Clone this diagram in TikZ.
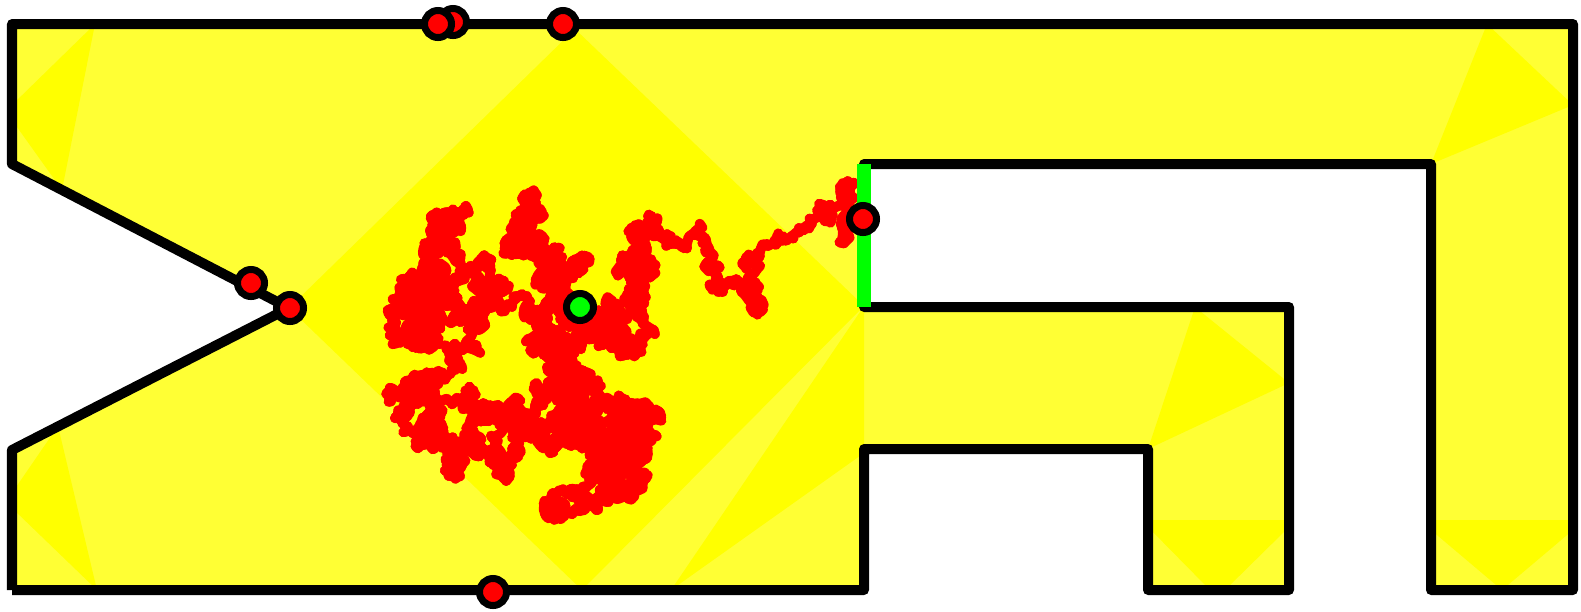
\documentclass[tikz,border=0pt]{standalone}
\definecolor{pureyellow}{RGB}{255,255,0}
\definecolor{paleyellow}{RGB}{255,255,52}
\definecolor{pathred}{RGB}{255,0,0}
\definecolor{exitgreen}{RGB}{0,255,0}

\begin{document}
\begin{tikzpicture}[x=0.01cm, y=-0.01cm,
    wall/.style = {line width=0.1cm, line join=round},
    door/.style = {exitgreen, line width=0.14cm},
    walk/.style = {pathred, line width=0.1cm, line cap=round},
    main/.style = {draw, circle, line width=0.07cm, fill=pathred,
      minimum size=0.27cm, inner sep=0pt}]
  \useasboundingbox (0,0) rectangle (1581,611);

  \fill[paleyellow] (12,590) -- (864,590) -- (864,449) -- (1148,449)
    -- (1148,590) -- (1289,590) -- (1289,307) -- (864,307) -- (864,164)
    -- (1431,164) -- (1431,590) -- (1573,590) -- (1573,24) -- (12,24)
    -- (12,164) -- (289,308) -- (12,450) -- cycle;
  \fill[pureyellow] (575,29) -- (864,306) -- (582,590) -- (289,308) -- cycle;
  \fill[pureyellow] (864,306) -- (671,590) -- (864,453) -- cycle;
  \fill[pureyellow] (95,24) -- (12,105) -- (12,120) -- (62,190) -- cycle;
  \fill[pureyellow] (58,426) -- (12,493) -- (12,508) -- (97,590) -- cycle;
  \fill[pureyellow] (1487,24) -- (1573,105) -- (1431,164) -- cycle;
  \fill[pureyellow] (1195,307) -- (1289,383) -- (1148,449) -- cycle;
  \fill[pureyellow] (1148,520) -- (1289,520) -- (1289,527) -- (1225,590)
    -- (1210,590) -- (1148,527) -- cycle;
  \fill[pureyellow] (1431,520) -- (1573,520) -- (1573,530) -- (1502,590)
    -- (1431,530) -- cycle;

  \pgfmathsetseed{7}
  \xdef\walkx{580}\xdef\walky{307}
  \foreach \tx/\ty/\n in {560/270/300, 525/215/350, 545/285/300,
      480/265/350, 430/280/350, 410/340/350, 445/300/300, 420/400/350,
      440/440/300, 490/410/350, 480/450/300, 540/400/350, 560/340/300,
      560/420/350, 620/440/350, 560/520/350, 600/470/350, 640/440/300,
      600/400/300, 560/360/200, 610/320/300, 630/350/200, 620/270/250,
      650/230/120, 700/230/80, 720/285/60, 762/300/50, 752/258/50,
      795/230/50, 826/205/40, 846/185/40, 843/245/30, 863/219/30}{
    \foreach \k in {1,...,\n}{
      \pgfmathsetmacro\nx{\walkx+(\tx-\walkx)/(\n-\k+1)+4.5*rand}
      \pgfmathsetmacro\ny{\walky+(\ty-\walky)/(\n-\k+1)+4.5*rand}
      \draw[walk] (\walkx,\walky) -- (\nx,\ny);
      \xdef\walkx{\nx}\xdef\walky{\ny}
    }
  }

  \draw[wall] (12,590) -- (864,590) -- (864,449) -- (1148,449)
    -- (1148,590) -- (1289,590) -- (1289,307) -- (864,307) -- (864,164)
    -- (1431,164) -- (1431,590) -- (1573,590) -- (1573,24) -- (12,24)
    -- (12,164) -- (289,308) -- (12,450) -- (12,590);
  \draw[door] (864,164) -- (864,307);

  \node[main] (top2) at (453,22) {};
  \node[main] (top1) at (438,24) {};
  \node[main] (top3) at (563,24) {};
  \node[main] (notch1) at (251,283) {};
  \node[main] (notch2) at (290,308) {};
  \node[main] (bottom) at (493,592) {};
  \node[main] (exit) at (863,219) {};
  \node[main, fill=exitgreen] (start) at (580,307) {};
\end{tikzpicture}
\end{document}
